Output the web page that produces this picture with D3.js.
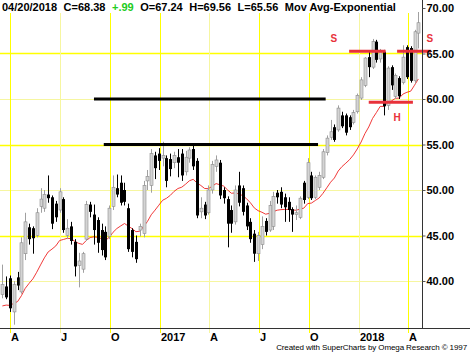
<!DOCTYPE html>
<html>
<head>
<meta charset="utf-8">
<script src="https://cdn.jsdelivr.net/npm/d3@7"></script>
<style>
  body { margin: 0; background: #fff; }
  svg { display: block; font-family: Arial, "Liberation Sans", sans-serif; }
</style>
</head>
<body>
<script>
var width = 470, height = 355;

// weekly bars, first one ends 2016-03-18
var firstWeek = "2016-03-18";
var opens = [38.5,39.4,40.3,36.6,40.4,38.8,43.0,45.9,45.8,45.0,48.2,48.0,49.5,49.2,48.5,47.8,49.0,45.0,46.0,44.3,
  41.7,41.3,44.6,48.4,47.3,46.7,45.6,45.4,44.9,48.2,50.2,50.8,50.0,48.0,45.6,44.3,45.6,45.2,51.0,50.5,
  53.8,54.0,53.5,53.5,53.4,53.0,53.6,54.0,52.0,53.5,54.5,53.2,47.6,48.4,47.5,50.0,52.6,53.0,50.0,49.0,
  47.8,46.5,50.5,50.2,48.3,46.5,45.2,43.0,44.0,46.6,45.6,46.0,49.7,49.8,49.2,48.7,47.9,47.3,47.0,50.8,
  49.2,51.6,49.2,50.3,51.4,54.1,55.8,56.9,56.6,58.2,58.2,58.0,57.4,58.6,60.1,61.5,64.6,63.5,66.3,64.4,
  65.2,59.3,63.5,60.3,62.3,61.8,65.7,65.6,62.0,67.24];
var highs = [41.8,40.5,40.6,40.0,41.0,44.8,47.5,46.3,46.0,48.0,50.2,50.0,51.6,49.4,48.8,50.2,49.2,46.8,46.5,44.6,
  43.1,43.2,48.8,48.7,48.4,47.0,46.3,46.0,48.3,51.6,51.7,51.6,50.8,48.5,45.8,45.0,46.3,51.0,52.2,54.5,
  54.2,54.6,55.3,53.8,54.0,54.2,54.5,54.5,54.3,54.7,55.0,53.5,49.2,48.7,50.5,53.2,53.8,53.3,50.3,49.3,
  48.3,50.5,52.0,50.5,48.6,46.9,45.6,45.4,47.1,46.9,48.8,49.8,50.0,50.3,49.6,49.2,48.1,48.3,49.3,51.0,
  53.5,52.0,51.6,52.0,54.5,56.0,57.7,57.2,59.3,58.6,58.4,58.2,58.8,60.6,62.4,64.6,65.2,66.6,66.5,65.5,
  65.4,63.6,63.7,62.8,62.5,65.9,65.9,65.8,67.6,69.56];
var lows = [38.1,38.0,36.6,35.2,39.0,38.6,42.3,44.0,43.0,44.8,47.5,47.6,48.6,45.7,46.5,47.5,45.3,44.6,44.0,40.5,
  39.3,40.9,44.4,47.0,44.0,43.1,42.8,42.3,44.6,47.8,49.2,48.3,48.3,43.2,42.6,42.0,44.9,44.8,50.0,49.7,
  51.2,52.2,52.6,50.3,51.5,52.4,51.4,51.0,51.6,53.0,52.2,46.9,46.9,46.8,47.3,49.6,52.0,49.0,48.5,43.7,
  45.3,46.2,48.2,47.2,45.6,44.2,42.1,42.2,43.5,45.0,45.4,45.6,48.5,48.0,46.5,46.5,45.4,46.7,46.8,48.5,
  49.0,48.9,49.0,50.0,51.2,53.8,55.5,55.3,56.4,56.8,56.0,56.6,57.2,58.4,59.9,61.3,62.4,63.3,64.0,64.0,
  58.2,58.8,61.0,60.0,60.0,61.6,62.2,61.8,61.7,65.56];
var closes = [39.6,38.2,37.0,39.6,39.5,44.2,46.5,44.6,44.7,47.5,49.0,49.5,49.1,46.3,47.0,49.8,45.6,45.8,44.4,41.6,
  42.2,43.0,48.4,47.6,45.6,44.2,43.4,42.6,48.0,50.3,49.5,48.6,48.7,43.5,43.2,42.4,46.0,50.5,51.5,54.0,
  52.4,53.2,53.8,51.0,52.3,53.8,53.0,51.6,53.6,54.4,52.6,47.2,48.0,47.2,50.0,52.8,53.3,49.4,49.1,46.3,
  46.3,50.0,48.6,47.6,46.0,44.6,43.0,45.0,46.0,45.4,48.3,49.3,49.2,48.4,48.1,47.8,47.3,47.5,49.1,48.9,
  53.0,49.1,51.4,51.6,54.2,55.7,56.4,55.5,59.0,57.0,56.3,56.9,58.5,60.4,62.1,64.5,63.5,66.3,64.3,65.3,
  59.2,63.4,61.5,62.6,60.3,64.6,62.4,62.0,67.39,68.38];

// exponential moving average settings
var emaPeriod = 19;
var emaSeed = 37.0;

var quarterDates = ["2016-04-01","2016-07-01","2016-10-01","2017-01-01","2017-04-01",
                    "2017-07-01","2017-10-01","2018-01-01","2018-04-01"];
var quarterLabels = ["A","J","O","2017","A","J","O","2018","A"];
var priceTicks = [40, 45, 50, 55, 60, 65, 70];

// drawn trend lines and labels
var blackLevels = [
  {price: 60.0, from: "2016-09-02", to: "2017-11-01"},
  {price: 55.0, from: "2016-09-20", to: "2017-10-18"}
];
var redLevels = [
  {price: 65.25, from: "2017-12-14", to: "2018-02-19"},
  {price: 65.25, from: "2018-03-12", to: "2018-05-13"},
  {price: 59.65, from: "2018-01-19", to: "2018-04-10"}
];
var notes = [
  {text: "S", date: "2017-11-16", price: 66.6},
  {text: "S", date: "2018-05-11", price: 66.6},
  {text: "H", date: "2018-03-12", price: 57.9}
];

var header = [
  {text: "04/20/2018", color: "#000"},
  {text: "C=68.38", color: "#000"},
  {text: "+.99", color: "#22cc22"},
  {text: "O=67.24", color: "#000"},
  {text: "H=69.56", color: "#000"},
  {text: "L=65.56", color: "#000"},
  {text: "Mov Avg-Exponential", color: "#000"}
];
var footer = "Created with SuperCharts by Omega Research \u00A9 1997";

var parse = d3.timeParse("%Y-%m-%d");
var start = parse(firstWeek);
var bars = closes.map(function(c, i) {
  return {date: d3.timeDay.offset(start, 7 * i), open: opens[i], high: highs[i], low: lows[i], close: c};
});

// EMA
var alpha = 2 / (emaPeriod + 1), ema = emaSeed;
var emaData = bars.map(function(d) {
  ema = ema + alpha * (d.close - ema);
  return {date: d.date, value: ema};
});

var axisX = 422, axisY = 328, gridTop = 13;

var x = d3.scaleTime()
    .domain([parse("2016-04-01"), parse("2018-04-01")])
    .range([10, 408]);
var y = d3.scaleLinear()
    .domain([40, 70])
    .range([281, 8]);

var svg = d3.select("body").append("svg")
    .attr("width", width)
    .attr("height", height);

// grid
svg.append("g").selectAll("line")
    .data(priceTicks.filter(function(p) { return y(p) > gridTop; }))
    .join("line")
      .attr("x1", 0).attr("x2", axisX)
      .attr("y1", function(p) { return Math.round(y(p)) + 0.5; })
      .attr("y2", function(p) { return Math.round(y(p)) + 0.5; })
      .attr("stroke", function(p) { return p % 10 === 5 ? "#ffff00" : "#f6f6a0"; })
      .attr("stroke-width", function(p) { return p % 10 === 5 ? 1.3 : 1; });

svg.append("g").selectAll("line")
    .data(quarterDates)
    .join("line")
      .attr("x1", function(d) { return Math.round(x(parse(d))) + 0.5; })
      .attr("x2", function(d) { return Math.round(x(parse(d))) + 0.5; })
      .attr("y1", gridTop).attr("y2", axisY + 5)
      .attr("stroke", function(d, i) { return i % 3 === 1 ? "#f6f6a0" : "#ffff00"; })
      .attr("stroke-width", 1);

// moving average
svg.append("path")
    .datum(emaData)
    .attr("fill", "none")
    .attr("stroke", "#ee2222")
    .attr("stroke-width", 0.9)
    .attr("d", d3.line().x(function(d) { return x(d.date); }).y(function(d) { return y(d.value); }));

// candles
var cx = function(d) { return Math.round(x(d.date)) + 0.5; };
var up = function(d) { return d.close >= d.open; };
var candles = svg.append("g").selectAll("g")
    .data(bars)
    .join("g");
candles.append("line")
    .attr("x1", cx).attr("x2", cx)
    .attr("y1", function(d) { return y(d.high); })
    .attr("y2", function(d) { return y(d.low); })
    .attr("stroke", function(d) { return up(d) ? "#a0a0a0" : "#000"; })
    .attr("stroke-width", 1);
candles.append("rect")
    .attr("x", function(d) { return cx(d) - 1.5; })
    .attr("width", 3)
    .attr("y", function(d) { return y(Math.max(d.open, d.close)); })
    .attr("height", function(d) { return Math.max(1, Math.abs(y(d.open) - y(d.close))); })
    .attr("fill", function(d) { return up(d) ? "#d4d4d4" : "#000"; })
    .attr("stroke", function(d) { return up(d) ? "#8c8c8c" : "none"; })
    .attr("stroke-width", 0.6);

// trend lines
svg.append("g").selectAll("line")
    .data(blackLevels)
    .join("line")
      .attr("x1", function(d) { return x(parse(d.from)); })
      .attr("x2", function(d) { return x(parse(d.to)); })
      .attr("y1", function(d) { return y(d.price); })
      .attr("y2", function(d) { return y(d.price); })
      .attr("stroke", "#000")
      .attr("stroke-width", 3);
svg.append("g").selectAll("line")
    .data(redLevels)
    .join("line")
      .attr("x1", function(d) { return x(parse(d.from)); })
      .attr("x2", function(d) { return x(parse(d.to)); })
      .attr("y1", function(d) { return y(d.price); })
      .attr("y2", function(d) { return y(d.price); })
      .attr("stroke", "#e8313a")
      .attr("stroke-width", 3);
svg.append("g").selectAll("text")
    .data(notes)
    .join("text")
      .attr("x", function(d) { return x(parse(d.date)); })
      .attr("y", function(d) { return y(d.price); })
      .attr("text-anchor", "middle")
      .attr("dominant-baseline", "middle")
      .attr("fill", "#e8313a")
      .style("font-size", "10px")
      .style("font-weight", "bold")
      .text(function(d) { return d.text; });

// axes
svg.append("line")
    .attr("x1", 0).attr("x2", width)
    .attr("y1", axisY + 0.5).attr("y2", axisY + 0.5)
    .attr("stroke", "#333");
svg.append("line")
    .attr("x1", axisX + 0.5).attr("x2", axisX + 0.5)
    .attr("y1", 0).attr("y2", axisY)
    .attr("stroke", "#333");

var yAxis = svg.append("g")
    .attr("transform", "translate(" + (axisX + 0.5) + ",0)")
    .call(d3.axisRight(y).tickValues(priceTicks).tickSize(3).tickPadding(1)
      .tickFormat(d3.format(".2f")));
yAxis.select(".domain").remove();
yAxis.selectAll("line").attr("stroke", "#555");
yAxis.selectAll("text")
    .attr("fill", "#000")
    .style("font-size", "11px")
    .style("font-weight", "bold")
    .style("font-family", "Arial, 'Liberation Sans', sans-serif");

svg.append("g").selectAll("text")
    .data(quarterDates)
    .join("text")
      .attr("x", function(d) { return Math.round(x(parse(d))) + 1; })
      .attr("y", axisY + 13)
      .style("font-size", "11px")
      .style("font-weight", "bold")
      .text(function(d, i) { return quarterLabels[i]; });

// header
var hx = 2;
header.forEach(function(h) {
  var t = svg.append("text")
      .attr("x", hx)
      .attr("y", 11)
      .attr("fill", h.color)
      .style("font-size", "11px")
      .style("font-weight", "bold")
      .text(h.text);
  hx += t.node().getComputedTextLength() + 6.5;
});

svg.append("text")
    .attr("x", 467)
    .attr("y", 350)
    .attr("text-anchor", "end")
    .style("font-size", "8px")
    .style("letter-spacing", "-0.1px")
    .text(footer);
</script>
</body>
</html>
